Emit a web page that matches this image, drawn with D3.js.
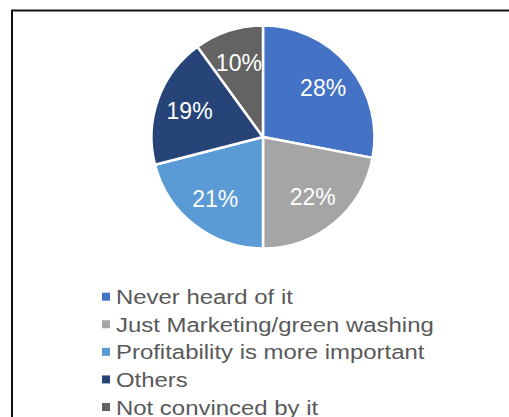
<!DOCTYPE html>
<html>
<head>
<meta charset="utf-8">
<script src="https://cdn.jsdelivr.net/npm/d3@7"></script>
<style>
  html, body { margin: 0; padding: 0; background: #fff; }
  svg { display: block; }
  text { font-family: "Liberation Sans", Arial, sans-serif; }
</style>
</head>
<body>
<svg id="chart" width="509" height="417"></svg>
<script>
// Survey answers, in drawing order (clockwise from 12 o'clock)
const categories = [
  "Never heard of it",
  "Just Marketing/green washing",
  "Profitability is more important",
  "Others",
  "Not convinced by it"
];
const shares = [28, 22, 21, 19, 10];
const colors = ["#4472C4", "#A5A5A5", "#5B9BD5", "#264478", "#636363"];

const svg = d3.select("#chart");
const W = 509, H = 417;

// frame
svg.append("rect")
  .attr("x", 12).attr("y", 10.5)
  .attr("width", W + 20).attr("height", H + 20)
  .attr("fill", "#fff")
  .attr("stroke", "#111").attr("stroke-width", 2);

const cx = 263, cy = 137, R = 111.5;

const color = d3.scaleOrdinal().domain(categories).range(colors);

const data = categories.map((c, i) => ({ name: c, value: shares[i] }));
const pie = d3.pie().value(d => d.value).sort(null);
const arcs = pie(data);

const arc = d3.arc().innerRadius(0).outerRadius(R);
const labelArc = d3.arc().innerRadius(R * 0.70).outerRadius(R * 0.70);

const g = svg.append("g").attr("transform", `translate(${cx},${cy})`);

g.selectAll("path.slice")
  .data(arcs)
  .join("path")
  .attr("class", "slice")
  .attr("d", arc)
  .attr("fill", d => color(d.data.name))
  .attr("stroke", "#fff")
  .attr("stroke-width", 2.5)
  .attr("stroke-linejoin", "round");

g.selectAll("text.pct")
  .data(arcs)
  .join("text")
  .attr("class", "pct")
  .attr("transform", d => `translate(${labelArc.centroid(d)})`)
  .attr("text-anchor", "middle")
  .attr("dy", "0.36em")
  .attr("fill", "#fff")
  .style("font-size", "23px")
  .text(d => d.data.value + "%");

// legend
const legend = svg.append("g").attr("transform", "translate(102,0)");
const rowY = d3.scalePoint().domain(categories).range([296.7, 407]);

const rows = legend.selectAll("g.item")
  .data(categories)
  .join("g")
  .attr("class", "item")
  .attr("transform", d => `translate(0,${rowY(d)})`);

rows.append("rect")
  .attr("x", 0).attr("y", -4)
  .attr("width", 8).attr("height", 8)
  .attr("fill", d => color(d));

rows.append("text")
  .attr("transform", "translate(14,0) scale(1.14,1)")
  .attr("dy", "0.36em")
  .attr("fill", "#595959")
  .style("font-size", "21px")
  .text(d => d);
</script>
</body>
</html>
